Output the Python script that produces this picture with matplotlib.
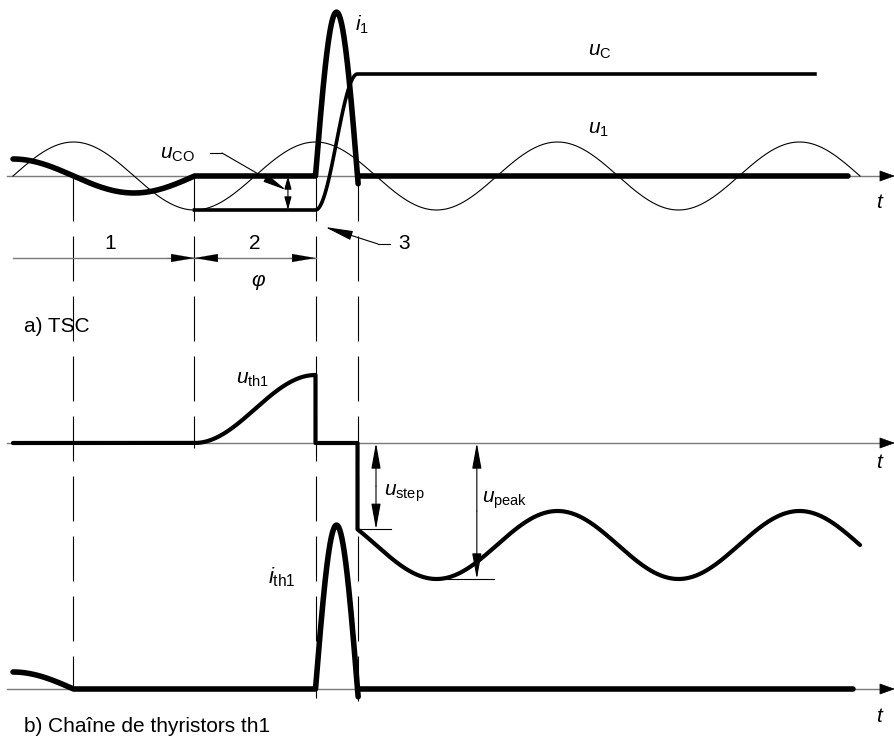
import numpy as np
import matplotlib.pyplot as plt

plt.rcParams['font.family'] = ['Liberation Sans', 'DejaVu Sans']
plt.rcParams['mathtext.fontset'] = 'custom'
plt.rcParams['mathtext.rm'] = 'Liberation Sans'
plt.rcParams['mathtext.it'] = 'Liberation Sans:italic'
plt.rcParams['lines.scale_dashes'] = False

# electrical angle in degrees, u1 amplitude = 1 p.u.
T_END = 1260            # u1 drawn over 3.5 cycles
I_PRE = 0.5             # i1 amplitude before the thyristors block
BLOCK_DEG = 270         # current zero -> thyristors block
FIRE_DEG = 450          # thyristors fired again at u1 peak
PULSE_DEG = 62.5        # width of the inrush current pulse
PULSE_PEAK = 4.82       # inrush current peak
U_CO = -1.0             # capacitor voltage held after blocking
U_C = 3.0               # capacitor voltage after the pulse
UC_END = 1193           # end of the u_C line
LINE_END = [1242, 1250]  # end of the thick zero lines (top, bottom)
DASH_X = [90, BLOCK_DEG, FIRE_DEG, FIRE_DEG + PULSE_DEG]
DASH_END = [-15.09, -8.0, -15.35, -15.47]

# mapping of the drawing (pixels of the 895x738 sheet) to the data units
X0, SX = 13, 242 / 360
Y0, SY = 176, 34


def P(xp, yp):
  """Sheet pixel -> data coordinates (used to place labels)."""
  return ((xp - X0) / SX, (Y0 - yp) / SY)


def arrow(ax, a, b, style='-|>', hl=14, hw=5, lw=0.8, color='black'):
  ax.annotate('', xy=b, xytext=a,
              arrowprops=dict(arrowstyle=f'{style},head_length={hl * 0.72},head_width={hw * 0.72}',
                              mutation_scale=1, lw=lw, color=color,
                              shrinkA=0, shrinkB=0))


def label(ax, xp, yp, s, size=15, ha='left'):
  ax.text(*P(xp, yp), s, fontsize=size, ha=ha, va='center')


fig = plt.figure(figsize=(8.95, 7.38), dpi=100)
ax = fig.add_axes([0, 0, 1, 1])
ax.set_xlim(P(0, 0)[0], P(895, 0)[0])
ax.set_ylim(P(0, 738)[1], P(0, 0)[1])
ax.axis('off')

OFF = [0, P(0, 443)[1], P(0, 689)[1]]
rad = np.radians

THICK, MED, THIN = 4.0, 2.6, 0.8
GRAY = '#7a7a7a'

# time axes
for off in OFF:
  ax.plot([P(7, 0)[0], P(885, 0)[0]], [off, off], color=GRAY, lw=1.0, zorder=1)
  arrow(ax, (P(881, 0)[0], off), (P(895, 0)[0], off), hl=14, hw=5, lw=0.5)
for yp in [203, 463, 717]:
  label(ax, 880, yp, r'$t$', size=15, ha='center')

# dashed vertical lines
for x, y_end in zip(DASH_X, DASH_END):
  ax.plot([x, x], [0, y_end], color='black', lw=0.8, ls=(0, (32.4, 10.8)), zorder=1)

# ---------- a) TSC ----------
theta = np.linspace(0, T_END, 1400)
ax.plot(theta, np.sin(rad(theta)), color='black', lw=THIN, zorder=2)

th_pre = np.linspace(0, BLOCK_DEG, 200)
th_pulse = np.linspace(FIRE_DEG, FIRE_DEG + PULSE_DEG * 1.015, 80)
pulse = PULSE_PEAK * np.sin(np.pi * (th_pulse - FIRE_DEG) / PULSE_DEG)

i1_x = np.concatenate([th_pre, th_pulse])
i1_y = np.concatenate([I_PRE * np.cos(rad(th_pre)), pulse])
ax.plot(i1_x, i1_y, color='black', lw=THICK, solid_capstyle='round', zorder=4)
ax.plot([FIRE_DEG + PULSE_DEG, LINE_END[0]], [0, 0], color='black', lw=THICK,
        solid_capstyle='round', zorder=4)

th_rise = np.linspace(FIRE_DEG, FIRE_DEG + PULSE_DEG, 60)
rise = U_CO + (U_C - U_CO) * (1 - np.cos(np.pi * (th_rise - FIRE_DEG) / PULSE_DEG)) / 2
uc_x = np.concatenate([[BLOCK_DEG], th_rise, [UC_END]])
uc_y = np.concatenate([[U_CO], rise, [U_C]])
ax.plot(uc_x, uc_y, color='black', lw=MED, zorder=3)

# u_CO dimension
arrow(ax, (409, 0), (409, U_CO), style='<|-|>', hl=11, hw=3, lw=0.8)
ax.plot([P(210, 0)[0], P(222, 0)[0]], [P(0, 153)[1]] * 2, color='black', lw=0.8)
arrow(ax, P(222, 153), P(286, 190), hl=20, hw=3.5, lw=0.8)

# interval dimension line
ydim = P(0, 258)[1]
ax.plot([0, FIRE_DEG], [ydim, ydim], color=GRAY, lw=1.0)
arrow(ax, (BLOCK_DEG - 40, ydim), (BLOCK_DEG, ydim), hl=23, hw=4, lw=0.1)
arrow(ax, (BLOCK_DEG + 40, ydim), (BLOCK_DEG, ydim), hl=23, hw=4, lw=0.1)
arrow(ax, (FIRE_DEG - 40, ydim), (FIRE_DEG, ydim), hl=23, hw=4, lw=0.1)

# leader "3"
ax.plot([P(378, 0)[0], P(390, 0)[0]], [P(0, 244)[1]] * 2, color='black', lw=0.8)
arrow(ax, P(378, 244), P(325, 227), hl=24, hw=4, lw=0.8)

label(ax, 355, 25, r'$i_{1}$')
label(ax, 588, 52, r'$u_{\mathrm{C}}$')
label(ax, 588, 130, r'$u_{1}$')
label(ax, 160, 155, r'$u_{\mathrm{CO}}$')
label(ax, 110, 244, '1', size=15, ha='center')
label(ax, 255, 244, '2', size=15, ha='center')
label(ax, 404, 244, '3', size=15, ha='center')
label(ax, 258, 282, r'$\varphi$', size=15, ha='center')
label(ax, 24, 327, 'a) TSC', size=15)

# ---------- thyristor voltage u_th1 ----------
off = OFF[1]
th_a = np.linspace(0, BLOCK_DEG, 50)
th_b = np.linspace(BLOCK_DEG, FIRE_DEG, 120)
th_c = np.linspace(FIRE_DEG + PULSE_DEG, T_END, 700)
uth_x = np.concatenate([th_a, th_b, [FIRE_DEG, FIRE_DEG + PULSE_DEG], th_c])
uth_y = np.concatenate([np.zeros_like(th_a), np.sin(rad(th_b)) - U_CO, [0, 0],
                        np.sin(rad(th_c)) - U_C])
ax.plot(uth_x, uth_y + off, color='black', lw=3.0, solid_capstyle='round', zorder=4)

u_step = np.sin(rad(FIRE_DEG + PULSE_DEG)) - U_C
arrow(ax, (540, off + u_step / 2), (540, off), hl=22, hw=4, lw=0.8)
arrow(ax, (540, off + u_step / 2), (540, off + u_step), hl=22, hw=4, lw=0.8)
ax.plot([FIRE_DEG + PULSE_DEG, 563], [off + u_step] * 2, color='black', lw=0.8)

u_peak = -1 - U_C
arrow(ax, (690, off + u_peak / 2), (690, off), hl=22, hw=4, lw=0.8)
arrow(ax, (690, off + u_peak / 2), (690, off + u_peak), hl=22, hw=4, lw=0.8)
ax.plot([630, 715], [off + u_peak] * 2, color='black', lw=0.8)

label(ax, 236, 380, r'$u_{\mathrm{th1}}$')
label(ax, 384, 493, r'$u_{\mathrm{step}}$')
label(ax, 482, 500, r'$u_{\mathrm{peak}}$')

# ---------- b) thyristor current i_th1 ----------
off = OFF[2]
th_tail = np.linspace(0, 90, 60)
ith_x = np.concatenate([th_tail, th_pulse])
ith_y = np.concatenate([I_PRE * np.cos(rad(th_tail)), pulse])
ax.plot(ith_x, ith_y + off, color='black', lw=THICK, solid_capstyle='round', zorder=4)
ax.plot([FIRE_DEG + PULSE_DEG, LINE_END[1]], [off, off], color='black', lw=THICK,
        solid_capstyle='round', zorder=4)

label(ax, 268, 577, r'$i_{\mathrm{th1}}$', size=16)
label(ax, 24, 727, 'b) Chaîne de thyristors th1', size=15)

fig.savefig('out.png', dpi=100)
